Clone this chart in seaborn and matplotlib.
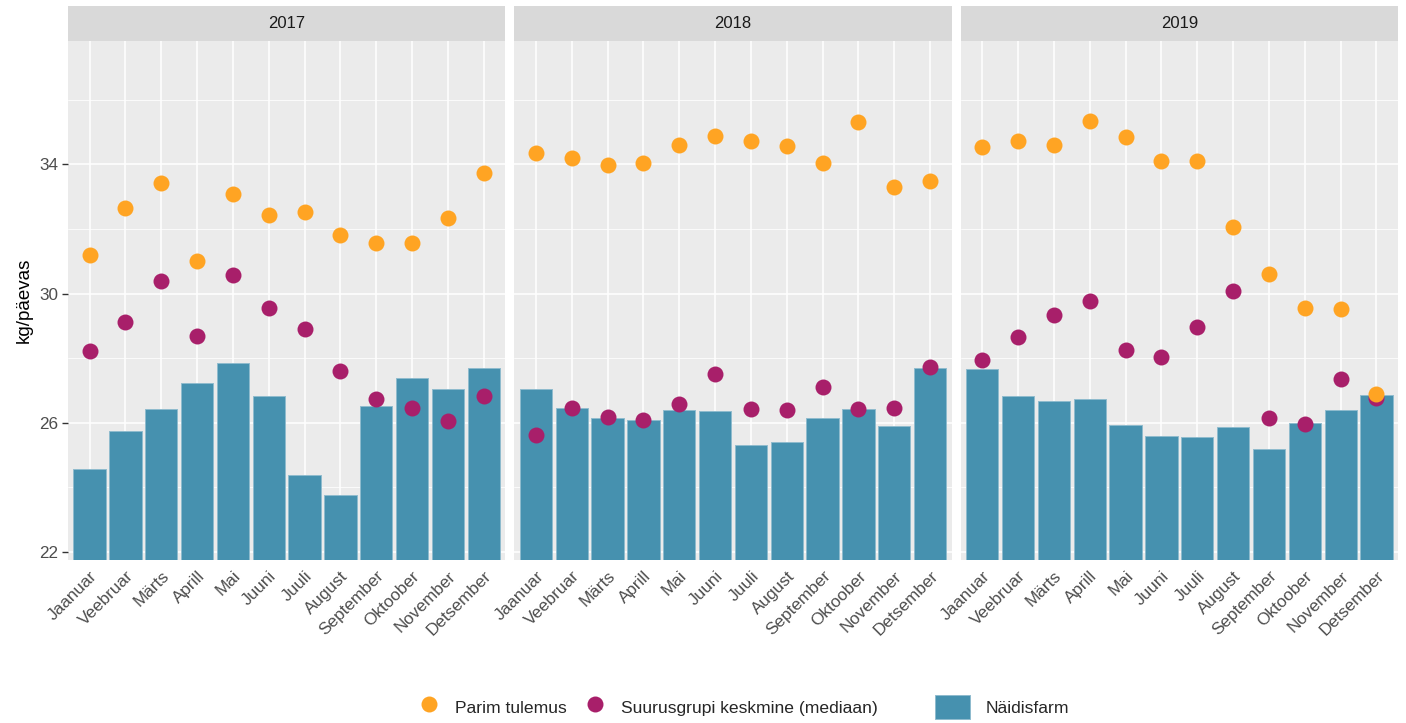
import numpy as np
import pandas as pd
import matplotlib
matplotlib.use("Agg")
import matplotlib.pyplot as plt
from matplotlib.patches import Rectangle, Patch
from matplotlib.lines import Line2D
from matplotlib.ticker import FixedLocator
import seaborn as sns

months = ["Jaanuar", "Veebruar", "Märts", "Aprill", "Mai", "Juuni", "Juuli",
          "August", "September", "Oktoober", "November", "Detsember"]
years = ["2017", "2018", "2019"]

naidisfarm_2017 = [24.57, 25.75, 26.43, 27.23, 27.85, 26.82, 24.39, 23.77, 26.53, 27.38, 27.03, 27.71]
parim_2017 = [31.20, 32.64, 33.41, 31.02, 33.07, 32.44, 32.52, 31.80, 31.58, 31.58, 32.34, 33.74]
mediaan_2017 = [28.21, 29.11, 30.38, 28.70, 30.57, 29.54, 28.90, 27.60, 26.74, 26.47, 26.06, 26.84]

naidisfarm_2018 = [27.05, 26.47, 26.16, 26.09, 26.40, 26.37, 25.32, 25.41, 26.16, 26.43, 25.91, 27.71]
parim_2018 = [34.34, 34.21, 33.97, 34.04, 34.59, 34.88, 34.72, 34.58, 34.04, 35.30, 33.29, 33.49]
mediaan_2018 = [25.63, 26.47, 26.19, 26.09, 26.59, 27.52, 26.43, 26.40, 27.12, 26.43, 26.47, 27.74]

naidisfarm_2019 = [27.68, 26.83, 26.67, 26.73, 25.94, 25.58, 25.55, 25.87, 25.18, 25.98, 26.41, 26.85]
parim_2019 = [34.55, 34.73, 34.60, 35.34, 34.85, 34.09, 34.11, 32.07, 30.60, 29.55, 29.53, 26.88]
mediaan_2019 = [27.95, 28.65, 29.33, 29.76, 28.26, 28.03, 28.98, 30.07, 26.15, 25.97, 27.36, 26.77]

series_labels = ["Parim tulemus", "Suurusgrupi keskmine (mediaan)", "Näidisfarm"]
y_label = "kg/päevas"

naidis = {"2017": naidisfarm_2017, "2018": naidisfarm_2018, "2019": naidisfarm_2019}
parim = {"2017": parim_2017, "2018": parim_2018, "2019": parim_2019}
mediaan = {"2017": mediaan_2017, "2018": mediaan_2018, "2019": mediaan_2019}

rows = []
for y in years:
    for i, m in enumerate(months):
        rows.append({"aasta": y, "kuu": m, "naidis": naidis[y][i],
                     "parim": parim[y][i], "mediaan": mediaan[y][i]})
df = pd.DataFrame(rows)

sns.set_theme(style="white")
plt.rcParams["font.family"] = ["Liberation Sans", "DejaVu Sans"]

c_bar = "#4691AF"
c_orange = "#FFA423"
c_purple = "#A81F6A"
panel_bg = "#EBEBEB"
strip_bg = "#D9D9D9"
tick_col = "#4D4D4D"
fs_tick = 12.3

fig, axes = plt.subplots(1, 3, figsize=(14.06, 7.23), dpi=100, sharey=True)
fig.subplots_adjust(left=0.0484, right=0.9943, top=0.9433, bottom=0.2254, wspace=0.0206)

for ax, y in zip(axes, years):
    sub = df[df["aasta"] == y]
    ax.set_facecolor(panel_bg)
    sns.barplot(data=sub, x="kuu", y="naidis", order=months, color=c_bar,
                saturation=1, width=0.9, edgecolor="#8FBBCE", linewidth=0.7,
                ax=ax, zorder=2)
    sns.stripplot(data=sub, x="kuu", y="mediaan", order=months, color=c_purple,
                  jitter=False, size=11.5, linewidth=0, ax=ax, zorder=3)
    sns.stripplot(data=sub, x="kuu", y="parim", order=months, color=c_orange,
                  jitter=False, size=11.5, linewidth=0, ax=ax, zorder=4)
    ax.set_xlim(-0.6, 11.6)
    ax.set_ylim(21.75, 37.82)
    ax.yaxis.set_major_locator(FixedLocator([22, 26, 30, 34]))
    ax.yaxis.set_minor_locator(FixedLocator([24, 28, 32, 36]))
    ax.grid(True, which="major", color="white", linewidth=1.1, zorder=0)
    ax.grid(True, which="minor", axis="y", color="white", linewidth=0.55, zorder=0)
    ax.set_axisbelow(True)
    for s in ax.spines.values():
        s.set_visible(False)
    ax.set_xlabel("")
    ax.set_ylabel("")
    ax.tick_params(axis="x", which="major", length=4, width=1.0, color="#333333",
                   labelsize=fs_tick, labelcolor=tick_col, pad=2)
    ax.tick_params(axis="y", which="major", length=4, width=1.0, color="#333333",
                   labelsize=fs_tick, labelcolor=tick_col, pad=3, left=True)
    ax.tick_params(axis="y", which="minor", length=0)
    ax.set_xticks(range(len(months)))
    ax.set_xticklabels(months, rotation=45, ha="right", rotation_mode="anchor")
    # facet strip
    ax.add_patch(Rectangle((0, 1.0), 1, 0.0674, transform=ax.transAxes,
                           facecolor=strip_bg, edgecolor="none", clip_on=False))
    ax.text(0.5, 1.0337, y, transform=ax.transAxes, ha="center", va="center",
            fontsize=12, color="#1A1A1A")

for ax in axes[1:]:
    ax.tick_params(axis="y", which="major", left=False, labelleft=False)

axes[0].set_ylabel(y_label, fontsize=13.5, color="black", labelpad=5)

pt_handles = [
    Line2D([0], [0], marker="o", linestyle="none", markersize=11.5,
           markerfacecolor=c_orange, markeredgewidth=0),
    Line2D([0], [0], marker="o", linestyle="none", markersize=11.5,
           markerfacecolor=c_purple, markeredgewidth=0),
]
bar_handle = [Patch(facecolor=c_bar, edgecolor="#8FBBCE", linewidth=0.7)]

leg1 = fig.legend(pt_handles, series_labels[:2], loc="center left",
                  bbox_to_anchor=(0.2927, 0.022), ncol=2, frameon=False,
                  fontsize=12.6, handlelength=2.0, handleheight=1.7,
                  columnspacing=0.6, handletextpad=0.5, borderpad=0,
                  borderaxespad=0)
leg2 = fig.legend(bar_handle, series_labels[2:], loc="center left",
                  bbox_to_anchor=(0.665, 0.022), ncol=1, frameon=False,
                  fontsize=12.6, handlelength=2.0, handleheight=1.7,
                  handletextpad=0.9, borderpad=0, borderaxespad=0)

fig.savefig("out.png", dpi=100)
